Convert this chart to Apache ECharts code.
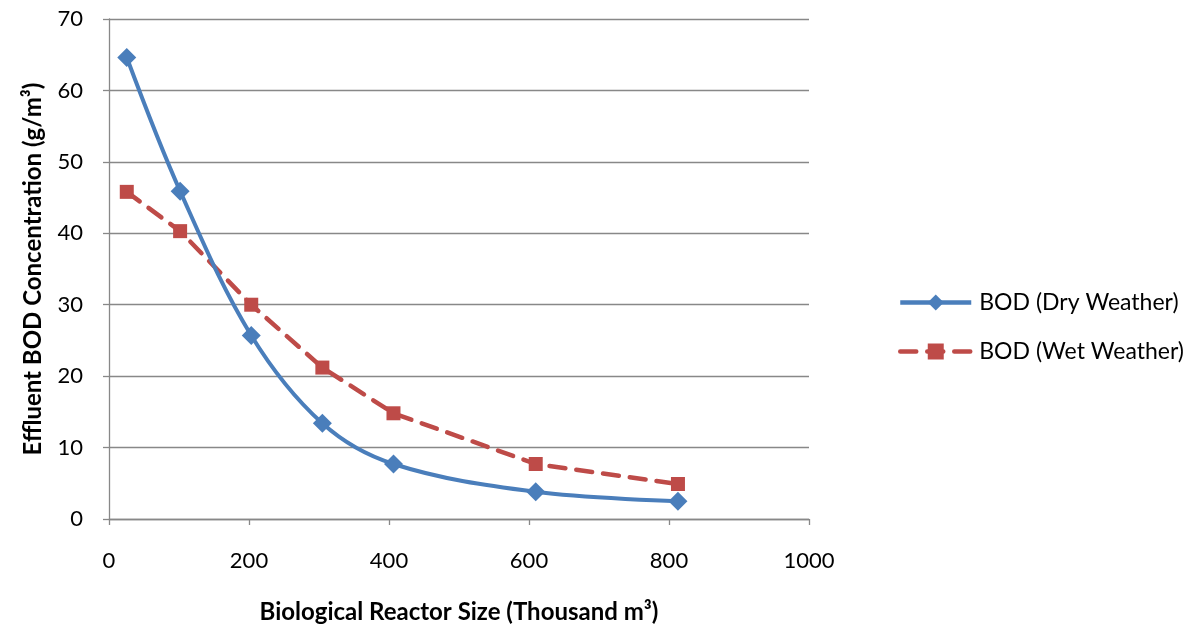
<!DOCTYPE html>
<html>
<head>
<meta charset="utf-8">
<script src="https://cdn.jsdelivr.net/npm/echarts@6/dist/echarts.min.js"></script>
<style>
  html, body { margin: 0; padding: 0; background: #fff; }
  #chart { width: 1198px; height: 628px; }
</style>
</head>
<body>
<div id="chart"></div>
<script>
// Reactor size (thousand m³) and effluent BOD (g/m³)
const reactorSize = [25.4, 101.6, 203.2, 304.8, 406.4, 609.6, 812.8];
const bodDry = [64.6, 45.9, 25.7, 13.4, 7.7, 3.8, 2.5];
const bodWet = [45.8, 40.3, 30.0, 21.2, 14.8, 7.7, 4.9];

const FONT = 'Lato, "Open Sans", sans-serif';
const blue = '#4a7ebb';
const red = '#be4b48';
const gridGray = '#888888';

const pairs = (xs, ys) => xs.map((x, i) => [x, ys[i]]);

const chart = echarts.init(document.getElementById('chart'));
chart.setOption({
  animation: false,
  grid: { left: 109, right: 389, top: 19, bottom: 109, containLabel: false, outerBoundsMode: 'none' },
  legend: {
    orient: 'vertical',
    left: 898,
    top: 291,
    padding: 0,
    itemWidth: 71,
    itemHeight: 20,
    itemGap: 26,
    lineStyle: { width: 4.5 },
    textStyle: { fontFamily: FONT, fontSize: 23, color: '#000', padding: [0, 0, 0, 3] },
    data: ['BOD (Dry Weather)', 'BOD (Wet Weather)']
  },
  xAxis: {
    type: 'value',
    min: 0, max: 1000, interval: 200,
    name: 'Biological Reactor Size (Thousand m³)',
    nameLocation: 'middle',
    nameGap: 81,
    nameTextStyle: { fontFamily: FONT, fontSize: 24, fontWeight: 'bold', color: '#000' },
    axisLine: { show: true, lineStyle: { color: gridGray, width: 1.3 } },
    axisTick: { show: true, inside: false, length: 6, lineStyle: { color: gridGray, width: 1.3 } },
    axisLabel: { fontFamily: FONT, fontSize: 22, color: '#000', margin: 31, formatter: v => String(v) },
    splitLine: { show: false }
  },
  yAxis: {
    type: 'value',
    min: 0, max: 70, interval: 10,
    name: 'Effluent BOD Concentration (g/m³)',
    nameLocation: 'middle',
    nameGap: 64,
    nameRotate: 90,
    nameTextStyle: { fontFamily: FONT, fontSize: 24, fontWeight: 'bold', color: '#000' },
    axisLine: { show: true, lineStyle: { color: gridGray, width: 1.3 } },
    axisTick: { show: true, inside: false, length: 6, lineStyle: { color: gridGray, width: 1.3 } },
    axisLabel: { fontFamily: FONT, fontSize: 22, color: '#000', margin: 26 },
    splitLine: { show: true, lineStyle: { color: gridGray, width: 1.3 } }
  },
  series: [
    {
      name: 'BOD (Dry Weather)',
      type: 'line',
      data: pairs(reactorSize, bodDry),
      smooth: 0.35,
      symbol: 'diamond',
      symbolSize: [19, 19],
      itemStyle: { color: blue },
      lineStyle: { color: blue, width: 4 },
      z: 3
    },
    {
      name: 'BOD (Wet Weather)',
      type: 'line',
      data: pairs(reactorSize, bodWet),
      smooth: false,
      symbol: 'rect',
      symbolSize: [14, 14],
      itemStyle: { color: red },
      lineStyle: { color: red, width: 4.5, type: [16, 11], cap: 'round' },
      z: 2
    }
  ]
});
</script>
</body>
</html>
